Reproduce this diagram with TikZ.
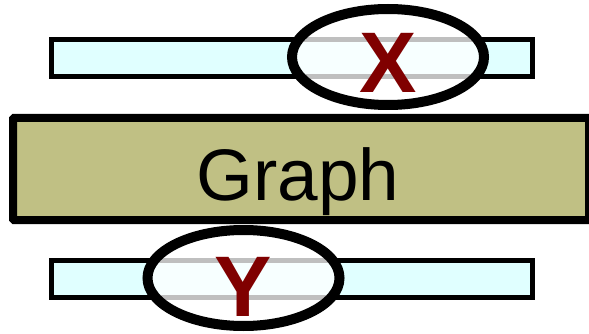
\documentclass[tikz,border=0pt]{standalone}
\usepackage{fontspec}
\setmainfont{Liberation Sans}
\usetikzlibrary{shapes.geometric}
\definecolor{barfill}{HTML}{E0FFFF}
\definecolor{graphfill}{HTML}{C0C084}
\definecolor{labelred}{HTML}{800000}
\tikzset{
  bar/.style={draw=black, line width=5pt, fill=barfill, rectangle,
    minimum width=481pt, minimum height=37pt, inner sep=0pt},
  graphbox/.style={draw=black, line width=8pt, fill=graphfill, rectangle,
    minimum width=576pt, minimum height=102pt, inner sep=0pt, rounded corners=1pt},
  lens/.style={draw=black, line width=10pt, fill=white, fill opacity=0.75,
    draw opacity=1, ellipse, minimum width=192pt, minimum height=96pt, inner sep=0pt},
  letter/.style={text=labelred, font=\bfseries\fontsize{86}{90}\selectfont,
    anchor=base, inner sep=0pt},
  title/.style={text=black, font=\fontsize{73}{80}\selectfont, anchor=base, inner sep=0pt}
}
\begin{document}
\begin{tikzpicture}[x=1pt, y=-1pt]
  \useasboundingbox (0,0) rectangle (589,334);
  % upper strip with its lens
  \node[bar] (topbar) at (292,58) {};
  \node[lens] (toplens) at (388,57) {};
  \node[letter] (xlab) at (388,93) {X};
  % central block
  \node[graphbox] (graph) at (301,169) {};
  \node[title] (graphlab) at (298,200) {Graph};
  % lower strip with its lens
  \node[bar] (botbar) at (292,278.5) {};
  \node[lens] (botlens) at (243.5,278) {};
  \node[letter] (ylab) at (243.5,316) {Y};
\end{tikzpicture}
\end{document}
